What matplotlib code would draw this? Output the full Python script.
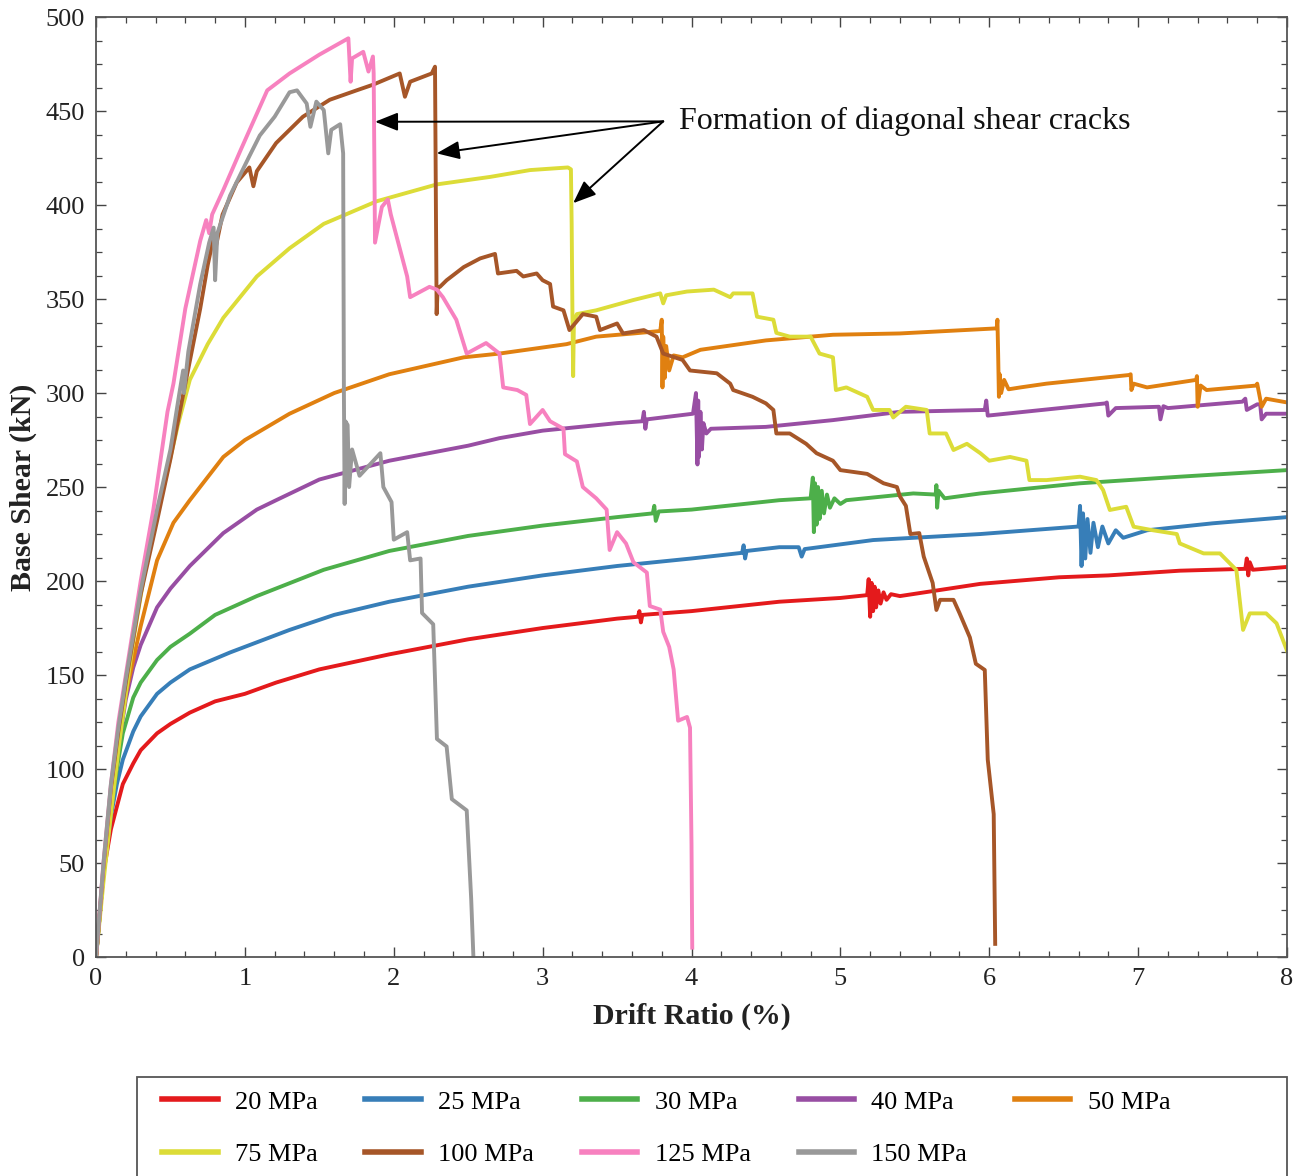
import matplotlib
matplotlib.use("Agg")
import matplotlib.pyplot as plt
from matplotlib.patches import Rectangle
from matplotlib.ticker import MultipleLocator

plt.rcParams["font.family"] = ["Liberation Serif", "DejaVu Serif"]

# Pushover curves (drift ratio in %, base shear in kN), one pair of lists per concrete strength
drift_20 = [0, 0.05, 0.1, 0.14, 0.18, 0.25, 0.3, 0.41, 0.5, 0.63, 0.8, 1.0, 1.21, 1.5, 1.97, 2.5, 3.0,
            3.5, 3.64, 3.65, 3.66, 3.67, 4.0, 4.59, 5.0, 5.18, 5.19, 5.2, 5.21, 5.22, 5.23, 5.24, 5.255,
            5.27, 5.29, 5.31, 5.34, 5.4, 5.94, 6.47, 6.8, 7.28, 7.72, 7.73, 7.74, 7.75, 7.77, 8.0]
shear_20 = [0, 45, 68, 80, 92, 103, 110, 119, 124, 130, 136, 140, 146, 153, 161, 169, 175,
            180, 181, 184, 178, 182, 184, 189, 191, 192.5, 201, 181, 199, 184, 197, 186, 195,
            188, 194, 190, 193, 192, 198.5, 202, 203, 205.5, 206.5, 212, 203, 210, 206, 207.5]

drift_25 = [0, 0.05, 0.1, 0.14, 0.18, 0.25, 0.3, 0.41, 0.5, 0.63, 0.9, 1.3, 1.6, 1.97, 2.5, 3.0, 3.5,
            4.0, 4.34, 4.35, 4.36, 4.37, 4.59, 4.72, 4.74, 4.76, 5.22, 5.94, 6.6, 6.61, 6.62, 6.63,
            6.645, 6.66, 6.68, 6.7, 6.73, 6.76, 6.8, 6.85, 6.9, 7.06, 7.5, 8.0]
shear_25 = [0, 45, 75, 92, 105, 120, 128, 140, 146, 153, 162, 174, 182, 189, 197, 203, 208,
            212, 215, 219, 212, 216, 218, 218, 213, 217, 221.8, 225, 229, 240, 208, 236,
            212, 233, 215, 231, 218, 229, 220, 227, 223, 227, 230.7, 234]

drift_30 = [0, 0.05, 0.1, 0.14, 0.18, 0.25, 0.3, 0.41, 0.5, 0.63, 0.8, 1.08, 1.53, 1.97, 2.5, 3.0, 3.5,
            3.74, 3.75, 3.76, 3.78, 4.0, 4.59, 4.8, 4.815, 4.822, 4.83, 4.84, 4.85, 4.86, 4.875, 4.89,
            4.91, 4.93, 4.96, 5.0, 5.04, 5.49, 5.64, 5.645, 5.65, 5.66, 5.7, 5.94, 6.61, 7.28, 8.0]
shear_30 = [0, 45, 78, 100, 119, 138, 146, 158, 165, 172, 182, 192, 206, 216, 224, 229.5, 234,
            236, 240, 232, 237, 238, 243, 244, 255, 226, 252, 230, 250, 233, 248, 236,
            246, 239, 244, 241, 243, 246.6, 246, 251, 239, 248, 244, 246.6, 252, 255.5, 259]

drift_40 = [0, 0.05, 0.1, 0.15, 0.2, 0.25, 0.3, 0.41, 0.5, 0.63, 0.855, 1.08, 1.21, 1.5, 1.97, 2.5,
            2.71, 3.0, 3.5, 3.67, 3.68, 3.69, 3.7, 4.01, 4.03, 4.04, 4.045, 4.05, 4.06, 4.07, 4.08,
            4.1, 4.13, 4.5, 4.95, 5.4, 5.97, 5.98, 5.99, 6.78, 6.79, 6.8, 6.85, 7.14, 7.15, 7.17,
            7.2, 7.7, 7.72, 7.73, 7.8, 7.82, 7.83, 7.86, 8.0]
shear_40 = [0, 45, 80, 112, 137, 154, 166, 186, 196, 208, 225.5, 238, 243, 254, 264, 272,
            276, 280, 284, 285, 290, 281, 286, 289, 300, 262, 296, 266, 290, 270, 284,
            278.5, 281, 282, 285.6, 290, 291, 296, 288, 294.5, 295, 288, 292, 292.7, 286, 293,
            292, 295.4, 297, 291, 294, 294, 286, 289, 289]

drift_50 = [0, 0.05, 0.1, 0.15, 0.2, 0.3, 0.41, 0.52, 0.63, 0.855, 1.0, 1.3, 1.6, 1.97, 2.47, 2.71,
            3.16, 3.36, 3.61, 3.79, 3.8, 3.805, 3.81, 3.82, 3.83, 3.85, 3.88, 3.94, 4.06, 4.5, 4.95,
            5.4, 6.05, 6.055, 6.06, 6.065, 6.07, 6.08, 6.1, 6.13, 6.21, 6.385, 6.94, 6.95, 6.955,
            6.97, 7.06, 7.39, 7.395, 7.40, 7.42, 7.46, 7.795, 7.8, 7.83, 7.86, 8.0]
shear_50 = [0, 45, 80, 114, 140, 176, 211, 231, 243, 266, 275, 289, 300, 310, 319, 321,
            326, 330, 331.7, 333, 339, 303, 330, 308, 325, 312, 320, 319, 323, 328, 331,
            331.7, 334.4, 339, 320, 298, 310, 300, 307, 302, 303, 305, 309.6, 310, 301.6,
            305, 303, 307, 309, 292.7, 304, 301.6, 304, 305, 292.7, 297, 295]

drift_75 = [0, 0.05, 0.1, 0.15, 0.2, 0.25, 0.3, 0.36, 0.46, 0.55, 0.63, 0.75, 0.855, 1.08, 1.3, 1.53,
            1.885, 2.29, 2.65, 2.915, 3.17, 3.19, 3.195, 3.2, 3.205, 3.21, 3.23, 3.36, 3.61, 3.79,
            3.81, 3.83, 3.97, 4.15, 4.26, 4.28, 4.41, 4.44, 4.55, 4.57, 4.66, 4.80, 4.86, 4.95,
            4.97, 5.04, 5.18, 5.22, 5.33, 5.355, 5.44, 5.58, 5.60, 5.71, 5.76, 5.85, 5.94, 6.0,
            6.14, 6.25, 6.27, 6.385, 6.61, 6.72, 6.765, 6.81, 6.92, 6.97, 7.10, 7.26, 7.28, 7.44,
            7.55, 7.66, 7.705, 7.75, 7.86, 7.93, 8.0]
shear_75 = [0, 40, 76, 110, 140, 168, 192, 220, 252, 283, 307, 326, 340, 362, 377, 390,
            402, 411, 415, 418.6, 420, 419, 390, 344, 309, 338, 342, 344, 349.5, 353,
            347.7, 352, 354, 355, 351, 353, 353, 340.6, 339, 332, 330, 330, 321, 319,
            301.6, 303, 298, 291, 291, 287, 292.7, 291, 278.5, 278.5, 269.7, 273, 268, 264,
            266, 264, 253.7, 253.7, 255.5, 253.7, 248.4, 237.8, 239.5, 228.9, 227, 225, 220, 214.7,
            214.7, 205.9, 174, 182.8, 182.8, 177.5, 163]

drift_100 = [0, 0.05, 0.1, 0.15, 0.2, 0.3, 0.41, 0.5, 0.6, 0.7, 0.75, 0.79, 0.8, 0.85, 0.945, 1.03,
             1.057, 1.08, 1.21, 1.39, 1.57, 1.75, 1.86, 2.04, 2.075, 2.11, 2.255, 2.277, 2.283, 2.288,
             2.295, 2.31, 2.355, 2.47, 2.58, 2.68, 2.70, 2.825, 2.87, 2.96, 3.0, 3.05, 3.07, 3.14,
             3.18, 3.27, 3.36, 3.385, 3.5, 3.54, 3.68, 3.765, 3.81, 3.94, 3.99, 4.17, 4.26, 4.28,
             4.41, 4.5, 4.55, 4.57, 4.66, 4.77, 4.84, 4.95, 5.0, 5.18, 5.29, 5.38, 5.40, 5.44,
             5.47, 5.53, 5.56, 5.62, 5.645, 5.67, 5.76, 5.80, 5.87, 5.91, 5.97, 5.99, 6.03, 6.04]
shear_100 = [0, 48, 90, 120, 146, 193, 232, 265, 305, 345, 368, 383, 376, 395, 412, 420,
             410, 418, 433, 447, 456, 461, 464, 470, 457.6, 465.6, 470, 473.6, 400, 342,
             356, 356.5, 360, 367, 371.6, 374, 363.6, 365, 362, 363.6, 360, 358, 346, 344,
             333.5, 342, 340.6, 333.5, 337, 331.7, 333.5, 330, 321, 317.6, 312, 310.5, 305, 301.6,
             298, 294.5, 291, 278.5, 278.5, 273, 268, 264, 259, 257, 252, 250, 245, 240,
             225, 225.5, 213, 199, 184.6, 190, 190, 183, 170, 156, 152.7, 105, 76, 7]

drift_125 = [0, 0.05, 0.1, 0.15, 0.2, 0.3, 0.385, 0.48, 0.52, 0.6, 0.70, 0.74, 0.76, 0.78, 0.855,
             0.97, 1.15, 1.3, 1.5, 1.695, 1.71, 1.72, 1.795, 1.83, 1.86, 1.865, 1.874, 1.92, 1.96,
             1.98, 2.09, 2.11, 2.24, 2.29, 2.33, 2.42, 2.49, 2.62, 2.71, 2.735, 2.83, 2.89, 2.915,
             3.0, 3.05, 3.14, 3.15, 3.23, 3.27, 3.36, 3.43, 3.45, 3.50, 3.56, 3.61, 3.70, 3.72,
             3.79, 3.81, 3.85, 3.88, 3.91, 3.97, 3.99, 4.0, 4.005]
shear_125 = [0, 50, 92, 125, 150, 200, 238, 290, 305, 345, 381, 392, 385, 395, 408,
             429, 461, 470, 480, 488.7, 465.6, 478, 481.5, 471, 479, 470, 380, 399, 403,
             395, 362, 351, 356.5, 355, 351, 339, 321, 326.6, 321, 303, 301.6, 299, 283.5,
             291, 285, 281, 267.5, 263.6, 250, 244, 238, 216.5, 226, 220, 210, 204.5, 186.7,
             184.8, 173, 165, 153, 125.7, 127.7, 122, 60, 5]

drift_150 = [0, 0.05, 0.1, 0.15, 0.2, 0.3, 0.41, 0.5, 0.56, 0.585, 0.59, 0.62, 0.7, 0.76, 0.79,
             0.8, 0.815, 0.9, 1.03, 1.1, 1.2, 1.30, 1.35, 1.415, 1.44, 1.48, 1.53, 1.56, 1.58,
             1.64, 1.66, 1.665, 1.67, 1.675, 1.69, 1.70, 1.72, 1.77, 1.84, 1.91, 1.93, 1.985,
             2.0, 2.09, 2.11, 2.18, 2.19, 2.265, 2.29, 2.355, 2.39, 2.49, 2.52, 2.535]
shear_150 = [0, 50, 92, 122, 148, 195, 238, 270, 300, 312, 300, 322, 358, 380, 388,
             360, 385, 405, 426, 437, 447, 460, 461, 454, 441.6, 455, 450.5, 427.5, 440,
             443, 427.5, 300, 241, 285, 283, 250, 270, 256, 262, 268, 250, 242,
             222, 226, 211, 212, 183, 177, 116, 112, 84, 78, 31, 0]

labels = ["20 MPa", "25 MPa", "30 MPa", "40 MPa", "50 MPa",
          "75 MPa", "100 MPa", "125 MPa", "150 MPa"]
colors = ["#e41a1c", "#377eb8", "#4daf4a", "#984ea3", "#e08010",
          "#dcdc38", "#a65628", "#f781bf", "#999999"]
drifts = [drift_20, drift_25, drift_30, drift_40, drift_50, drift_75, drift_100, drift_125, drift_150]
shears = [shear_20, shear_25, shear_30, shear_40, shear_50, shear_75, shear_100, shear_125, shear_150]

fig = plt.figure(figsize=(13.03, 11.76), dpi=100)
ax = fig.add_axes([0.0737, 0.1862, 0.914, 0.7993])

handles = []
for x, y, c, lab in zip(drifts, shears, colors, labels):
    h, = ax.plot(x, y, color=c, lw=2.8, label=lab, solid_joinstyle="round")
    handles.append(h)

ax.set_xlim(0, 8)
ax.set_ylim(0, 500)
ax.xaxis.set_major_locator(MultipleLocator(1))
ax.xaxis.set_minor_locator(MultipleLocator(0.2))
ax.yaxis.set_major_locator(MultipleLocator(50))
ax.yaxis.set_minor_locator(MultipleLocator(12.5))
ax.tick_params(which="both", direction="in", top=True, right=True, colors="#444444",
               labelcolor="#222222", labelsize=19, pad=8)
ax.tick_params(which="major", length=7.5, width=1.0)
ax.tick_params(which="minor", length=4, width=0.9)
for s in ax.spines.values():
    s.set_color("#555555")
    s.set_linewidth(1.3)

ax.set_xlabel("Drift Ratio (%)", fontsize=21.5, fontweight="bold", color="#222222", labelpad=9)
ax.set_ylabel("Base Shear (kN)", fontsize=21.5, fontweight="bold", color="#222222", labelpad=6)

# Arrows from the annotation to the sudden drops in shear
origin = (3.81, 444.5)
tips = [(1.874, 444.3), (2.288, 427.5), (3.205, 401)]
for tip in tips:
    ax.annotate("", xy=tip, xytext=origin,
                arrowprops=dict(arrowstyle="-|>,head_length=0.7,head_width=0.28",
                                mutation_scale=20, color="black", lw=1.4,
                                shrinkA=0, shrinkB=0))
ax.text(3.915, 444.7, "Formation of diagonal shear cracks", fontsize=23,
        va="center", ha="left", color="#111111")

# legend fills column by column, so interleave to get two rows of 5 + 4
order = [0, 5, 1, 6, 2, 7, 3, 8, 4]
leg = fig.legend([handles[i] for i in order], [labels[i] for i in order],
                 loc="upper left", bbox_to_anchor=(0.1143, 0.0842), ncol=5, fontsize=19,
                 frameon=False, borderaxespad=0,
                 handlelength=2.1, handletextpad=0.65, columnspacing=1.82,
                 labelspacing=1.1, borderpad=0.5)
for line in leg.get_lines():
    line.set_linewidth(4)

# wide box around the legend, running off the bottom of the figure
fig.patches.append(Rectangle((0.1051, -0.05), 0.8826, 0.1342, transform=fig.transFigure,
                             fill=False, edgecolor="#555555", linewidth=1.3))

fig.savefig("out.png", dpi=100)
